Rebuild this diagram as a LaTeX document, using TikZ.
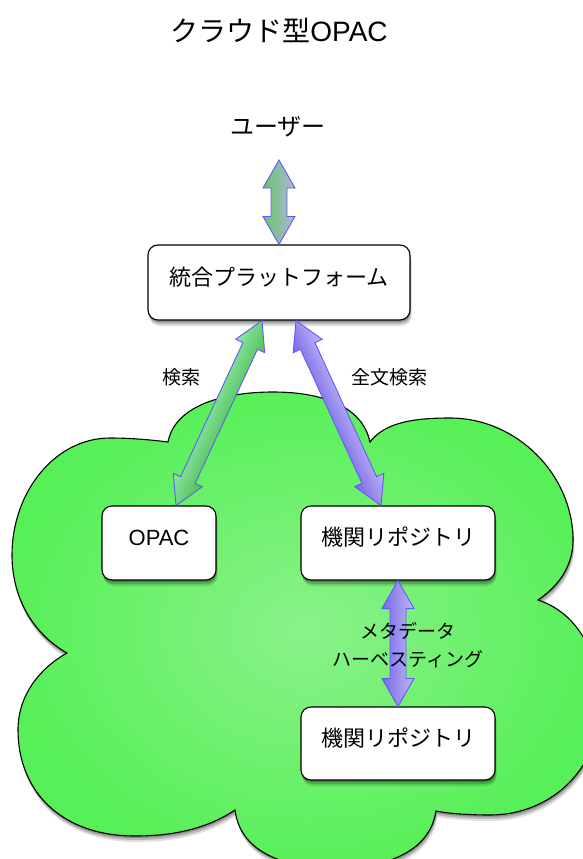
\documentclass[tikz,border=0pt]{standalone}
\usepackage{fontspec}
\setmainfont{Noto Sans CJK JP}
\newfontfamily\latinf{Liberation Sans}
\usetikzlibrary{calc}
\definecolor{arrowedge}{RGB}{100,88,250}
\definecolor{cloudin}{RGB}{138,242,138}
\definecolor{cloudout}{RGB}{88,240,88}
\definecolor{usrL}{RGB}{100,200,100}
\definecolor{usrR}{RGB}{178,180,222}
\definecolor{srchL}{RGB}{140,232,170}
\definecolor{srchR}{RGB}{80,190,80}
\definecolor{purL}{RGB}{120,104,232}
\definecolor{purR}{RGB}{190,184,248}
\tikzset{
  softshadow/.style={
    preaction={fill=black,fill opacity=0.22,transform canvas={xshift=0.5pt,yshift=-2pt}},
    preaction={fill=black,fill opacity=0.18,transform canvas={xshift=1pt,yshift=-4pt}},
    preaction={fill=black,fill opacity=0.12,transform canvas={xshift=1.5pt,yshift=-6pt}}},
  cloudfill/.style={draw=black,line width=1.1pt,softshadow,shading=radial,inner color=cloudin,outer color=cloudout},
  boxnode/.style={draw=black,line width=1.1pt,fill=white,rounded corners=10pt,softshadow,
    font=\fontsize{22}{26}\selectfont,text height=16pt,text depth=11pt,inner sep=0pt},
  arrowline/.style={draw=arrowedge,line width=0.9pt,line join=miter},
  lbl/.style={font=\fontsize{19}{28}\selectfont,inner sep=0pt,align=center}
}
\newcommand\dblarrow[4]{%
  \path (#1); \pgfgetlastxy{\arrAx}{\arrAy}%
  \path (#2); \pgfgetlastxy{\arrBx}{\arrBy}%
  \pgfmathsetmacro\arrAng{atan2((\arrBy)-(\arrAy),(\arrBx)-(\arrAx))}%
  \pgfmathsetmacro\arrLen{veclen((\arrBx)-(\arrAx),(\arrBy)-(\arrAy))}%
  \pgfmathsetmacro\arrEnd{\arrLen-28}%
  \begin{scope}[transform canvas={shift={(\arrAx,\arrAy)},rotate=\arrAng}]
    \path[arrowline,bottom color=#3,top color=#4]
      (0pt,0pt) -- (28pt,16pt) -- (28pt,8pt) -- (\arrEnd pt,8pt) -- (\arrEnd pt,16pt)
      -- (\arrLen pt,0pt) -- (\arrEnd pt,-16pt) -- (\arrEnd pt,-8pt) -- (28pt,-8pt)
      -- (28pt,-16pt) -- cycle;
  \end{scope}}
\begin{document}
\begin{tikzpicture}[x=1pt,y=-1pt]
\useasboundingbox[fill=white] (0,0) rectangle (583,859);

% cloud
\path[cloudfill] (168,442) .. controls (175,405) and (225,392) .. (273,392)
  .. controls (320,392) and (362,405) .. (370,442)
  .. controls (385,422) and (415,418) .. (450,418)
  .. controls (517,418) and (573,475) .. (573,540)
  .. controls (573,565) and (560,585) .. (538,600)
  .. controls (575,612) and (600,650) .. (600,705)
  .. controls (600,770) and (550,815) .. (490,815)
  .. controls (465,815) and (445,813) .. (436,811)
  .. controls (430,850) and (390,868) .. (335,868)
  .. controls (280,868) and (240,850) .. (235,810)
  .. controls (205,830) and (170,836) .. (135,836)
  .. controls (60,836) and (18,790) .. (18,730)
  .. controls (18,695) and (40,668) .. (67,653)
  .. controls (35,635) and (12,600) .. (12,555)
  .. controls (12,492) and (55,438) .. (110,438)
  .. controls (132,438) and (152,440) .. cycle;

% title and user
\node[font=\fontsize{28}{32}\selectfont,inner sep=0pt] (title) at (279,30) {クラウド型{\latinf OPAC}};
\node[font=\fontsize{24}{28}\selectfont,inner sep=0pt] (user) at (278,127) {ユーザー};

% boxes
\node[boxnode,minimum width=262pt,minimum height=75pt] (plat) at (279,282.5) {統合プラットフォーム};
\node[boxnode,minimum width=114pt,minimum height=74pt] (opac) at (159,543) {\latinf OPAC};
\node[boxnode,minimum width=194pt,minimum height=74pt] (repoA) at (398,543) {機関リポジトリ};
\node[boxnode,minimum width=194pt,minimum height=73pt] (repoB) at (398,743.5) {機関リポジトリ};

% arrows
\dblarrow{$(user.center)+(1,33)$}{plat.north}{usrL}{usrR}
\dblarrow{$(plat.south)+(-17,0)$}{$(opac.north)+(17,0)$}{srchL}{srchR}
\dblarrow{$(plat.south)+(17,0)$}{$(repoA.north)+(-17,0)$}{purL}{purR}
\dblarrow{repoA.south}{repoB.north}{purL}{purR}

% labels
\node[lbl] (lsearch) at (181,377) {検索};
\node[lbl] (lfull) at (389,377) {全文検索};
\node[lbl] (lharv) at (408,645) {メタデータ\\ハーベスティング};
\end{tikzpicture}
\end{document}
